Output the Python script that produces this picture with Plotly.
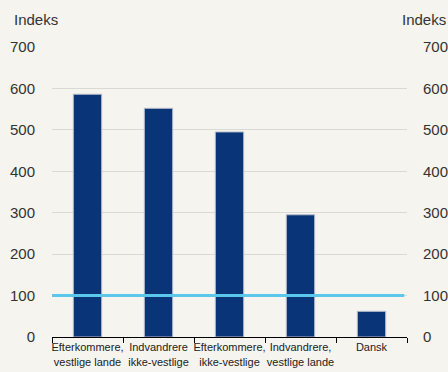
import plotly.graph_objects as go

categories = ["Efterkommere,<br>vestlige lande", "Indvandrere<br>ikke-vestlige<br>lande",
              "Efterkommere,<br>ikke-vestlige<br>lande", "Indvandrere,<br>vestlige lande", "Dansk"]
values = [586, 552, 495, 295, 62]
ref_value = 100
y_ticks = [0, 100, 200, 300, 400, 500, 600, 700]
axis_title = "Indeks"

bg = "#f5f4ee"
font = dict(family="Liberation Sans, Arial, sans-serif", color="#333333")

fig = go.Figure()
fig.add_trace(go.Bar(x=categories, y=values, width=0.4,
                     marker=dict(color="#0a3478", line=dict(color="#b8bfcc", width=1))))
fig.add_trace(go.Scatter(x=categories, y=values, yaxis="y2", mode="markers",
                         marker=dict(opacity=0), hoverinfo="skip", showlegend=False))
fig.add_shape(type="line", xref="paper", yref="y", x0=0, x1=0.992,
              y0=ref_value, y1=ref_value, line=dict(color="#5bc8eb", width=3))

fig.update_layout(
    width=448, height=372, showlegend=False,
    paper_bgcolor=bg, plot_bgcolor=bg,
    margin=dict(l=52, r=41, t=47, b=35),
    font=font,
    xaxis=dict(tickson="boundaries", ticks="outside", ticklen=5, tickcolor="#000",
               showline=True, linecolor="#000", linewidth=1, automargin=False,
               tickfont=dict(size=11, color="#222"), tickangle=0, showgrid=False),
    yaxis=dict(range=[0, 700], tickvals=y_ticks, showgrid=True, gridcolor="#d9d9d6",
               zeroline=False, ticks="outside", ticklen=13, tickcolor="rgba(0,0,0,0)",
               automargin=False, tickfont=dict(size=15, color="#333")),
    yaxis2=dict(range=[0, 700], tickvals=y_ticks, overlaying="y", side="right",
                showgrid=False, zeroline=False, ticks="outside", ticklen=12,
                automargin=False, tickcolor="rgba(0,0,0,0)", tickfont=dict(size=15, color="#333")),
    annotations=[
        dict(text=axis_title, xref="paper", yref="paper", x=-0.112, y=1.095,
             xanchor="left", yanchor="middle", showarrow=False, font=dict(size=15, color="#333")),
        dict(text=axis_title, xref="paper", yref="paper", x=1.115, y=1.095,
             xanchor="right", yanchor="middle", showarrow=False, font=dict(size=15, color="#333")),
    ],
)
fig.write_html("out.html", config={"displayModeBar": False},
               post_script="document.body.style.margin='0';document.body.style.background='%s';" % bg)
